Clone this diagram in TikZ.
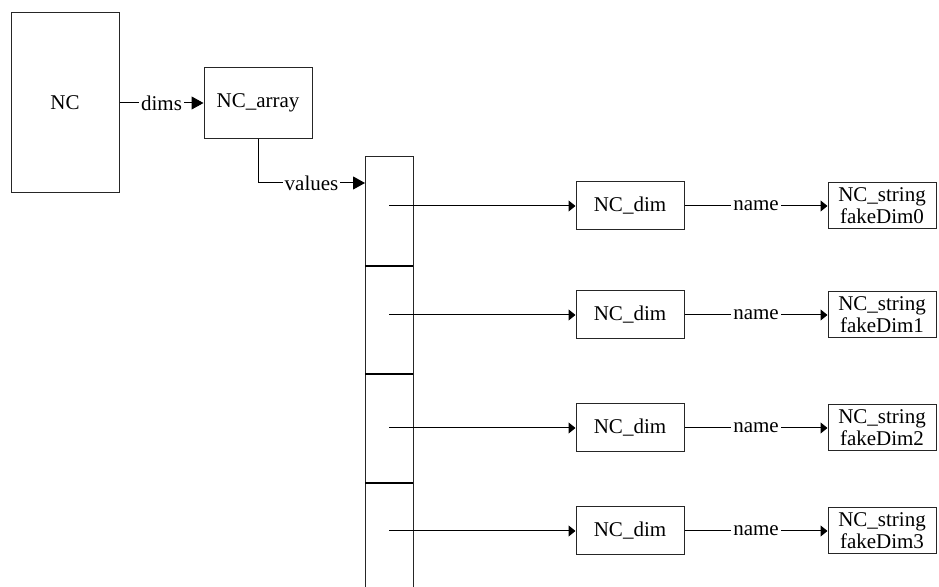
\documentclass[tikz,border=0pt]{standalone}
\usepackage{fontspec}
\setmainfont{Liberation Serif}
\newfontfamily\ncfont{Liberation Serif}
\usepackage{tikz}
\usetikzlibrary{arrows.meta, positioning}
\tikzset{
    nc diagram/.style={font=\ncfont\fontsize{10.5pt}{11pt}\selectfont},
    nc box/.style={draw=black!85, line width=0.5pt, align=center, inner sep=1pt,
        minimum width=54pt, minimum height=24pt},
    nc cell/.style={draw=black!85, line width=0.5pt, inner sep=0pt, outer sep=0pt,
        minimum width=24pt, minimum height=54.3pt},
    nc arrow/.style={-{Triangle[length=3.5pt, width=5.5pt]}, line width=0.5pt},
    nc big arrow/.style={-{Triangle[length=6pt, width=6.5pt]}, line width=0.5pt},
    nc label/.style={fill=white, inner sep=1pt},
    nc divider/.style={line width=1pt},
}
\begin{document}
\begin{tikzpicture}[nc diagram]
    \useasboundingbox (0,0) rectangle (469.5pt,-293.5pt);

    % Nodes
    \node[nc box, minimum height=90pt] (nc) at (32.5pt,-51.5pt) {NC};
    \node[nc box, minimum height=35.5pt, right=42pt of nc] (ncarray) {NC\_array};

    \node[nc cell, anchor=north] (cell0) at (194.5pt,-78.5pt) {};
    \node[nc cell, below=0pt of cell0] (cell1) {};
    \node[nc cell, below=0pt of cell1] (cell2) {};
    \node[nc cell, below=0pt of cell2] (cell3) {};

    \node[nc box] (dim0) at (315pt,-103pt) {NC\_dim};
    \node[nc box] (dim1) at (315pt,-157.5pt) {NC\_dim};
    \node[nc box] (dim2) at (315pt,-214pt) {NC\_dim};
    \node[nc box] (dim3) at (315pt,-265.5pt) {NC\_dim};

    \node[nc box, minimum height=23pt, right=71.5pt of dim0] (str0) {NC\_string\\fakeDim0};
    \node[nc box, minimum height=23pt, right=71.5pt of dim1] (str1) {NC\_string\\fakeDim1};
    \node[nc box, minimum height=23pt, right=71.5pt of dim2] (str2) {NC\_string\\fakeDim2};
    \node[nc box, minimum height=23pt, right=71.5pt of dim3] (str3) {NC\_string\\fakeDim3};

    % Dividers between the cells
    \draw[nc divider] (cell0.south west) -- (cell0.south east);
    \draw[nc divider] (cell1.south west) -- (cell1.south east);
    \draw[nc divider] (cell2.south west) -- (cell2.south east);

    % Arrows
    \draw[nc big arrow] (nc) -- node[nc label] {dims} (ncarray);
    \draw[nc big arrow] (ncarray.south) |- node[nc label, pos=0.75] {values} ([yshift=-13pt]cell0.north west);

    \draw[nc arrow] (cell0.center |- dim0) -- (dim0);
    \draw[nc arrow] (cell1.center |- dim1) -- (dim1);
    \draw[nc arrow] (cell2.center |- dim2) -- (dim2);
    \draw[nc arrow] (cell3.center |- dim3) -- (dim3);

    \draw[nc arrow] (dim0) -- node[nc label] {name} (str0);
    \draw[nc arrow] (dim1) -- node[nc label] {name} (str1);
    \draw[nc arrow] (dim2) -- node[nc label] {name} (str2);
    \draw[nc arrow] (dim3) -- node[nc label] {name} (str3);

\end{tikzpicture}
\end{document}
